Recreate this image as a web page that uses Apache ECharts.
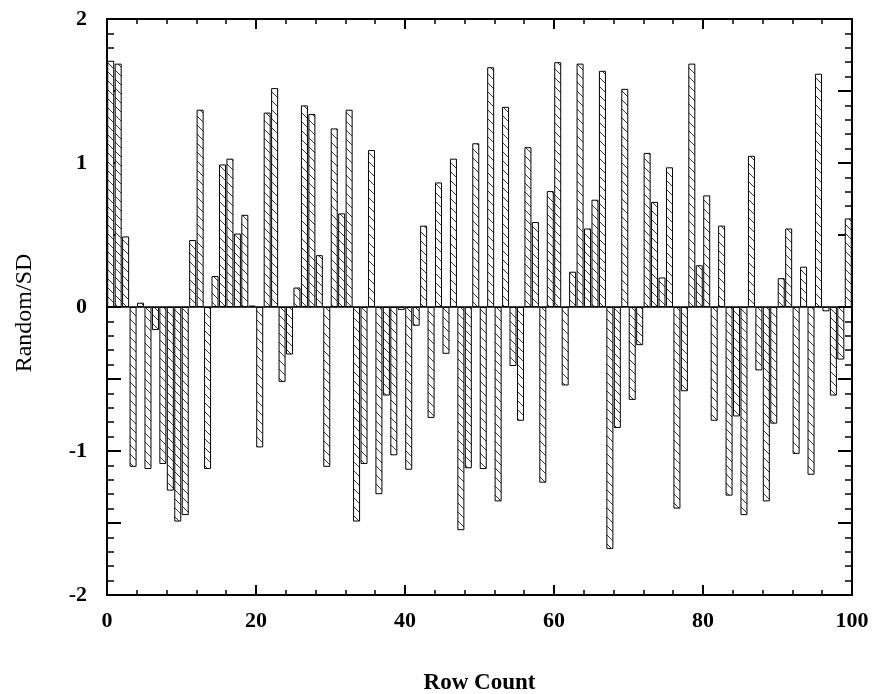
<!DOCTYPE html>
<html>
<head>
<meta charset="utf-8">
<title>Random/SD by Row Count</title>
<script src="https://cdn.jsdelivr.net/npm/echarts@6/dist/echarts.min.js"></script>
<style>
  html, body { margin: 0; padding: 0; background: #fff; }
  #chart { width: 876px; height: 694px; }
</style>
</head>
<body>
<div id="chart"></div>
<script>
// Random/SD value recorded for each of the 100 rows
const randomSD = [
  1.71, 1.69, 0.49, -1.11, 0.03, -1.125, -0.16, -1.09, -1.275, -1.49,
  -1.445, 0.465, 1.37, -1.125, 0.215, 0.99, 1.03, 0.51, 0.64, 0.01,
  -0.975, 1.35, 1.52, -0.52, -0.33, 0.135, 1.40, 1.34, 0.36, -1.11,
  1.24, 0.65, 1.37, -1.49, -1.09, 1.09, -1.30, -0.615, -1.03, -0.02,
  -1.13, -0.13, 0.565, -0.77, 0.865, -0.325, 1.03, -1.55, -1.12, 1.137,
  -1.125, 1.665, -1.35, 1.39, -0.41, -0.79, 1.11, 0.59, -1.22, 0.805,
  1.70, -0.545, 0.245, 1.69, 0.545, 0.745, 1.64, -1.68, -0.84, 1.515,
  -0.645, -0.265, 1.07, 0.73, 0.205, 0.97, -1.40, -0.585, 1.69, 0.29,
  0.775, -0.79, 0.565, -1.31, -0.76, -1.445, 1.05, -0.44, -1.35, -0.81,
  0.20, 0.545, -1.02, 0.28, -1.165, 1.62, -0.03, -0.615, -0.365, 0.615
];
// one category slot per row
const rows = randomSD.map((_, i) => String(i + 1));

// axis ranges
const xRange = [0, 100];
const xStep = 20;
const yRange = [-2, 2];
const yStep = 0.5;

const SERIF = '"Liberation Serif", "Times New Roman", serif';

// diagonal hatch used to fill every bar
function hatchPattern() {
  const s = 9;
  const c = document.createElement('canvas');
  c.width = s; c.height = s;
  const g = c.getContext('2d');
  g.fillStyle = '#ffffff';
  g.fillRect(0, 0, s, s);
  g.strokeStyle = '#3a3a3a';
  g.lineWidth = 1;
  g.beginPath();
  g.moveTo(0, 0); g.lineTo(s, s);
  g.moveTo(-2, s - 2); g.lineTo(2, s + 2);
  g.moveTo(s - 2, -2); g.lineTo(s + 2, 2);
  g.stroke();
  return c;
}

// frame edges stay on the grid border instead of jumping to zero
const frameLine = { show: true, onZero: false, lineStyle: { color: '#000', width: 2 } };

const valueX = (pos, withLabels) => ({
  type: 'value',
  position: pos,
  min: xRange[0], max: xRange[1], interval: xStep,
  axisLine: frameLine,
  axisTick: { show: true, inside: true, length: 10, lineStyle: { color: '#000', width: 2 } },
  minorTick: { show: true, splitNumber: 5, length: 5, lineStyle: { color: '#000', width: 1.5 } },
  splitLine: { show: false },
  axisLabel: {
    show: withLabels, margin: 15,
    fontFamily: SERIF, fontWeight: 'bold', fontSize: 22, color: '#000'
  },
  name: withLabels ? 'Row Count' : '',
  nameLocation: 'middle',
  nameGap: 77,
  nameTextStyle: { fontFamily: SERIF, fontWeight: 'bold', fontSize: 23, color: '#000' }
});

const valueY = (pos, withLabels) => ({
  type: 'value',
  position: pos,
  min: yRange[0], max: yRange[1], interval: yStep,
  axisLine: frameLine,
  axisTick: { show: true, inside: true, length: 14, lineStyle: { color: '#000', width: 2 } },
  minorTick: { show: true, splitNumber: 5, length: 7, lineStyle: { color: '#000', width: 1.5 } },
  splitLine: { show: false },
  axisLabel: {
    show: withLabels, margin: 20,
    fontFamily: SERIF, fontWeight: 'bold', fontSize: 22, color: '#000',
    formatter: v => (Number.isInteger(v) ? String(v) : '')
  },
  name: withLabels ? 'Random/SD' : '',
  nameLocation: 'middle',
  nameRotate: 90,
  nameGap: 70,
  nameTextStyle: { fontFamily: SERIF, fontSize: 24, color: '#000', padding: [0, 0, 0, -12] }
});

const chart = echarts.init(document.getElementById('chart'), null, { renderer: 'canvas' });
chart.setOption({
  backgroundColor: '#ffffff',
  animation: false,
  grid: {
    left: 107, right: 24, top: 19, bottom: 99,
    containLabel: false,
    outerBoundsMode: 'none'
  },
  xAxis: [
    {
      // row slots that carry the bars; its line is the zero baseline
      type: 'category',
      data: rows,
      boundaryGap: true,
      position: 'bottom',
      axisLine: { show: true, onZero: true, lineStyle: { color: '#000', width: 1.5 } },
      axisTick: { show: false },
      axisLabel: { show: false },
      splitLine: { show: false }
    },
    valueX('bottom', true),
    valueX('top', false)
  ],
  yAxis: [
    valueY('left', true),
    valueY('right', false)
  ],
  series: [{
    type: 'bar',
    xAxisIndex: 0,
    yAxisIndex: 0,
    data: randomSD,
    barCategoryGap: '6%',
    itemStyle: {
      color: { image: hatchPattern(), repeat: 'repeat' },
      borderColor: '#000',
      borderWidth: 1
    }
  }]
});
</script>
</body>
</html>
